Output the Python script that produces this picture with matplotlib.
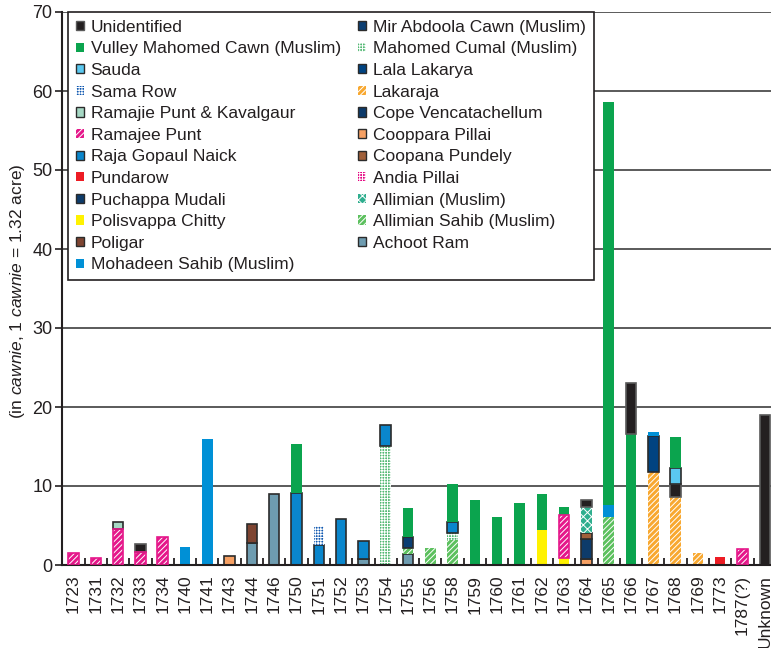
import numpy as np
import matplotlib.pyplot as plt
from matplotlib.patches import Patch

plt.rcParams['font.family'] = ['Liberation Sans', 'DejaVu Sans']
plt.rcParams['mathtext.fontset'] = 'custom'
plt.rcParams['mathtext.rm'] = 'Liberation Sans'
plt.rcParams['mathtext.it'] = 'Liberation Sans:italic'
plt.rcParams['hatch.linewidth'] = 0.7
plt.rcParams['text.color'] = '#231f20'
plt.rcParams['axes.labelcolor'] = '#231f20'
plt.rcParams['xtick.color'] = '#231f20'
plt.rcParams['ytick.color'] = '#231f20'

years = ['1723', '1731', '1732', '1733', '1734', '1740', '1741', '1743',
         '1744', '1746', '1750', '1751', '1752', '1753', '1754', '1755',
         '1756', '1758', '1759', '1760', '1761', '1762', '1763', '1764',
         '1765', '1766', '1767', '1768', '1769', '1773', '1787(?)', 'Unknown']

# legend order (two columns, filled top to bottom)
owners = ['unid', 'vulley', 'sauda', 'sama', 'ramajie_pk', 'ramajee', 'raja',
          'pundarow', 'puchappa', 'polis', 'poligar', 'mohadeen',
          'mir', 'cumal', 'lala', 'lakaraja', 'cope', 'cooppara', 'coopana',
          'andia', 'allimian', 'allimian_s', 'achoot']

labels = {
    'unid': 'Unidentified',
    'vulley': 'Vulley Mahomed Cawn (Muslim)',
    'sauda': 'Sauda',
    'sama': 'Sama Row',
    'ramajie_pk': 'Ramajie Punt & Kavalgaur',
    'ramajee': 'Ramajee Punt',
    'raja': 'Raja Gopaul Naick',
    'pundarow': 'Pundarow',
    'puchappa': 'Puchappa Mudali',
    'polis': 'Polisvappa Chitty',
    'poligar': 'Poligar',
    'mohadeen': 'Mohadeen Sahib (Muslim)',
    'mir': 'Mir Abdoola Cawn (Muslim)',
    'cumal': 'Mahomed Cumal (Muslim)',
    'lala': 'Lala Lakarya',
    'lakaraja': 'Lakaraja',
    'cope': 'Cope Vencatachellum',
    'cooppara': 'Cooppara Pillai',
    'coopana': 'Coopana Pundely',
    'andia': 'Andia Pillai',
    'allimian': 'Allimian (Muslim)',
    'allimian_s': 'Allimian Sahib (Muslim)',
    'achoot': 'Achoot Ram',
}

# segments of each bar, bottom to top
stack_owners = [
    ['ramajee'],
    ['ramajee'],
    ['ramajee', 'ramajie_pk'],
    ['ramajee', 'unid'],
    ['ramajee'],
    ['mohadeen'],
    ['mohadeen'],
    ['cooppara'],
    ['achoot', 'poligar'],
    ['achoot'],
    ['raja', 'vulley'],
    ['raja', 'sama'],
    ['raja'],
    ['achoot', 'raja'],
    ['cumal', 'raja'],
    ['achoot', 'allimian_s', 'mir', 'vulley'],
    ['allimian_s'],
    ['allimian_s', 'cumal', 'raja', 'vulley'],
    ['vulley'],
    ['vulley'],
    ['vulley'],
    ['polis', 'vulley'],
    ['polis', 'ramajee', 'vulley'],
    ['cooppara', 'puchappa', 'coopana', 'allimian', 'unid'],
    ['allimian_s', 'mohadeen', 'vulley'],
    ['vulley', 'unid'],
    ['lakaraja', 'lala', 'mohadeen'],
    ['lakaraja', 'unid', 'sauda', 'vulley'],
    ['lakaraja'],
    ['pundarow'],
    ['ramajee'],
    ['unid'],
]

stack_values = [
    [1.5],
    [0.9],
    [4.6, 0.85],
    [1.65, 1.0],
    [3.6],
    [2.3],
    [15.9],
    [1.15],
    [2.8, 2.4],
    [9.0],
    [9.15, 6.15],
    [2.5, 2.5],
    [5.8],
    [0.75, 2.25],
    [15.05, 2.65],
    [1.45, 0.75, 1.35, 3.65],
    [2.15],
    [3.15, 0.95, 1.35, 4.8],
    [8.2],
    [6.1],
    [7.85],
    [4.45, 4.55],
    [0.85, 5.5, 1.0],
    [0.75, 2.6, 0.75, 3.2, 0.9],
    [6.1, 1.5, 51.0],
    [16.6, 6.4],
    [11.8, 4.5, 0.55],
    [8.6, 1.65, 2.05, 3.9],
    [1.5],
    [1.0],
    [2.0],
    [19.0],
]

face_colors = {
    'unid': '#231f20', 'vulley': '#0ba44e', 'sauda': '#5ac8f0',
    'sama': '#0f58b0', 'ramajie_pk': '#a6d8c4', 'ramajee': '#e5178a',
    'raja': '#0a86cc', 'pundarow': '#ed1c24', 'puchappa': '#0d3b6a',
    'polis': '#fff200', 'poligar': '#7e4431', 'mohadeen': '#0090d6',
    'mir': '#0b3e72', 'cumal': '#52b872', 'lala': '#004381',
    'lakaraja': '#f8a830', 'cope': '#0c3a6a', 'cooppara': '#f6a063',
    'coopana': '#a0603a', 'andia': '#e4007f', 'allimian': '#2fae8e',
    'allimian_s': '#5cc05e', 'achoot': '#6e9cb0',
}

hatches = {
    'sama': '++++++', 'ramajee': '//////', 'cumal': '++++++',
    'lakaraja': '//////', 'andia': '++++++', 'allimian': 'xxxx',
    'allimian_s': '//////',
}

edge_colors = {
    'unid': '#5a5a5a', 'sauda': '#2b2b2b', 'ramajie_pk': '#2b2b2b',
    'ramajee': '#e5178a', 'raja': '#2b2b2b', 'puchappa': '#2b2b2b',
    'poligar': '#2b2b2b', 'mir': '#2b2b2b', 'lala': '#2b2b2b',
    'cope': '#2b2b2b', 'cooppara': '#2b2b2b', 'coopana': '#2b2b2b',
    'achoot': '#2b2b2b',
}

width = 0.47
x = np.arange(len(years))

fig = plt.figure(figsize=(7.71, 6.48), dpi=100)
ax = fig.add_axes([62 / 771, 83 / 648, 709 / 771, 553 / 648])


def draw_segment(xi, value, bottom, key):
    face = face_colors[key]
    edge = edge_colors.get(key)
    if key in hatches:
        ax.bar(xi, value, width, bottom, color=face, edgecolor='white',
               hatch=hatches[key], linewidth=0, zorder=2)
        if edge:
            ax.bar(xi, value, width, bottom, fill=False, edgecolor=edge,
                   linewidth=1.2, zorder=3)
    elif edge:
        ax.bar(xi, value, width, bottom, color=face, edgecolor=edge,
               linewidth=1.2, zorder=2)
    else:
        ax.bar(xi, value, width, bottom, color=face, linewidth=0, zorder=2)


for i in range(len(years)):
    bottom = 0.0
    for key, val in zip(stack_owners[i], stack_values[i]):
        draw_segment(x[i], val, bottom, key)
        bottom += val

ax.set_xlim(-0.516, 31.28)
ax.set_ylim(0, 70)

ax.set_xticks(x, years, rotation=90, fontsize=12.5)
ax.set_xticks(x[:-1] + 0.5, minor=True)
ax.tick_params(axis='x', which='major', length=0, pad=7)
ax.tick_params(axis='x', which='minor', direction='in', length=5, width=1.3)
ax.set_yticks(range(0, 71, 10))
ax.tick_params(axis='y', length=5, width=1.2, pad=2, labelsize=13)

ax.grid(axis='y', color='#4d4d4d', linewidth=1.3)
ax.set_axisbelow(True)
for side in ['top', 'right']:
    ax.spines[side].set_visible(False)
for side in ['left', 'bottom']:
    ax.spines[side].set_linewidth(1.5)
    ax.spines[side].set_color('#231f20')

ax.set_ylabel(r'(in $\mathit{cawnie}$, 1 $\mathit{cawnie}$ = 1.32 acre)',
              fontsize=12.5)
ax.yaxis.set_label_coords(-0.05, 0.495)

handles = []
for key in owners:
    if key in hatches:
        h = Patch(facecolor=face_colors[key], edgecolor='white',
                  hatch=hatches[key], linewidth=0)
    elif key in edge_colors:
        h = Patch(facecolor=face_colors[key], edgecolor=edge_colors[key],
                  linewidth=1.0)
    else:
        h = Patch(facecolor=face_colors[key], linewidth=0)
    handles.append(h)

leg = ax.legend(handles, [labels[k] for k in owners], ncol=2,
                loc='upper left', bbox_to_anchor=(6 / 709, 1.0),
                borderaxespad=0, fontsize=12.5, fancybox=False,
                framealpha=1, edgecolor='#231f20',
                handlelength=0.45, handleheight=0.45, handletextpad=0.4,
                columnspacing=1.0, labelspacing=0.38, borderpad=0.45)
leg.get_frame().set_linewidth(1.2)

fig.savefig('out.png', dpi=100)
